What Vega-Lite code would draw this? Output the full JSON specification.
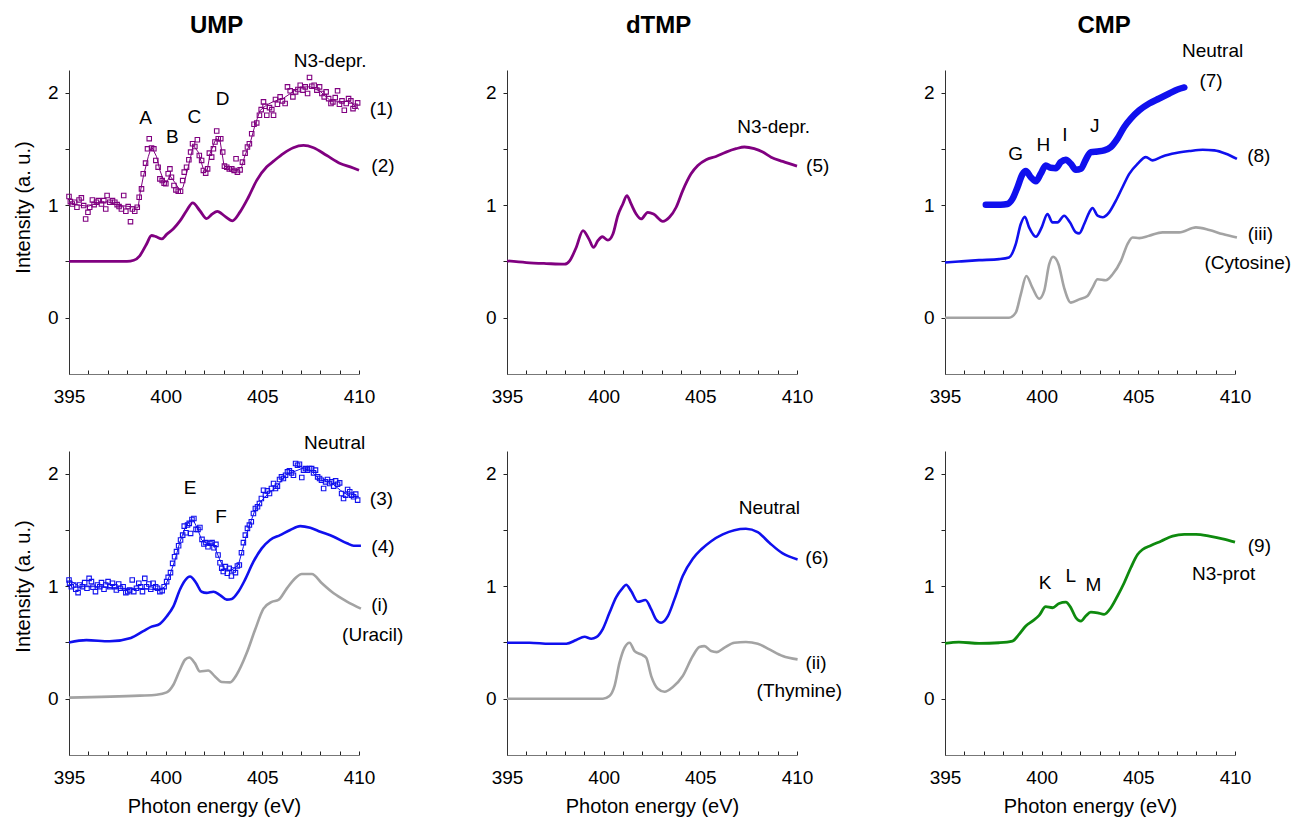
{
"$schema": "https://vega.github.io/schema/vega-lite/v6.json",
"padding": {"left": 13, "top": 14, "right": 2, "bottom": 2},
"config": {
  "font": "Liberation Sans",
  "view": {"stroke": null},
  "axis": {"grid": false, "labelFont": "Liberation Sans", "labelFontSize": 19, "labelColor": "#000", "titleFont": "Liberation Sans", "titleFontSize": 20, "titleFontWeight": "normal", "titleColor": "#000", "domainColor": "#333", "tickColor": "#222", "labelOverlap": false, "labelFlush": false},
  "axisX": {"tickSize": -4, "labelPadding": 17, "domainColor": "#777"},
  "axisY": {"tickSize": 4, "labelPadding": 7}
},
"bounds": "flush",
"columns": 3,
"spacing": {"row": 77, "column": 148},
"datasets": {
  "ump_top": [{"x":395,"y":0.5},{"x":396,"y":0.5},{"x":397,"y":0.5},{"x":398,"y":0.5},{"x":398.35,"y":0.51},{"x":398.66,"y":0.55},{"x":399.0,"y":0.65},{"x":399.27,"y":0.73},{"x":399.5,"y":0.72},{"x":399.8,"y":0.7},{"x":400.05,"y":0.74},{"x":400.4,"y":0.79},{"x":400.74,"y":0.86},{"x":401.08,"y":0.95},{"x":401.4,"y":1.02},{"x":401.77,"y":0.95},{"x":402.12,"y":0.88},{"x":402.4,"y":0.92},{"x":402.67,"y":0.945},{"x":403.07,"y":0.9},{"x":403.45,"y":0.86},{"x":403.85,"y":0.94},{"x":404.28,"y":1.07},{"x":404.71,"y":1.22},{"x":405.23,"y":1.34},{"x":405.58,"y":1.39},{"x":406.1,"y":1.46},{"x":406.6,"y":1.51},{"x":407.13,"y":1.53},{"x":407.65,"y":1.51},{"x":408.34,"y":1.44},{"x":409.03,"y":1.37},{"x":409.55,"y":1.34},{"x":410.0,"y":1.31}],
  "ump_top_fit": [{"x":395,"y":1.025},{"x":395.5,"y":1.0},{"x":396,"y":0.99},{"x":396.5,"y":1.02},{"x":397,"y":1.03},{"x":397.5,"y":1.0},{"x":398,"y":0.99},{"x":398.58,"y":0.98},{"x":398.67,"y":1.1},{"x":398.84,"y":1.25},{"x":399.1,"y":1.43},{"x":399.27,"y":1.52},{"x":399.53,"y":1.43},{"x":399.7,"y":1.31},{"x":399.87,"y":1.23},{"x":400.05,"y":1.2},{"x":400.22,"y":1.26},{"x":400.48,"y":1.2},{"x":400.74,"y":1.13},{"x":400.9,"y":1.16},{"x":401.17,"y":1.34},{"x":401.43,"y":1.53},{"x":401.69,"y":1.47},{"x":401.95,"y":1.32},{"x":402.15,"y":1.31},{"x":402.3,"y":1.46},{"x":402.6,"y":1.59},{"x":402.81,"y":1.575},{"x":403.02,"y":1.35},{"x":403.33,"y":1.32},{"x":403.67,"y":1.31},{"x":403.93,"y":1.34},{"x":404.1,"y":1.44},{"x":404.37,"y":1.55},{"x":404.62,"y":1.71},{"x":404.88,"y":1.84},{"x":405.23,"y":1.89},{"x":405.58,"y":1.92},{"x":406.1,"y":1.95},{"x":406.44,"y":1.99},{"x":406.96,"y":2.05},{"x":407.48,"y":2.05},{"x":408.0,"y":2.01},{"x":408.5,"y":1.93},{"x":409.03,"y":1.92},{"x":409.55,"y":1.92},{"x":410.0,"y":1.85}],
  "ump_top_pts": [{"x":395.0,"y":1.076},{"x":395.07,"y":1.031},{"x":395.17,"y":1.01},{"x":395.29,"y":1.025},{"x":395.41,"y":0.981},{"x":395.52,"y":1.046},{"x":395.64,"y":1.064},{"x":395.76,"y":0.996},{"x":395.86,"y":0.877},{"x":395.98,"y":0.936},{"x":396.07,"y":0.981},{"x":396.21,"y":1.046},{"x":396.3,"y":1.004},{"x":396.42,"y":1.025},{"x":396.52,"y":1.04},{"x":396.68,"y":1.01},{"x":396.8,"y":1.04},{"x":396.9,"y":0.966},{"x":396.97,"y":1.085},{"x":397.11,"y":1.025},{"x":397.25,"y":1.04},{"x":397.37,"y":1.025},{"x":397.49,"y":1.004},{"x":397.59,"y":0.987},{"x":397.71,"y":0.966},{"x":397.83,"y":1.085},{"x":397.94,"y":0.945},{"x":398.06,"y":0.987},{"x":398.18,"y":0.853},{"x":398.28,"y":0.966},{"x":398.4,"y":0.945},{"x":398.53,"y":0.981},{"x":398.63,"y":1.07},{"x":398.75,"y":1.144},{"x":398.84,"y":1.278},{"x":398.96,"y":1.373},{"x":399.06,"y":1.5},{"x":399.15,"y":1.59},{"x":399.27,"y":1.507},{"x":399.39,"y":1.5},{"x":399.49,"y":1.397},{"x":399.61,"y":1.337},{"x":399.7,"y":1.233},{"x":399.82,"y":1.218},{"x":399.92,"y":1.195},{"x":400.01,"y":1.189},{"x":400.13,"y":1.278},{"x":400.22,"y":1.322},{"x":400.3,"y":1.248},{"x":400.43,"y":1.174},{"x":400.53,"y":1.135},{"x":400.65,"y":1.123},{"x":400.77,"y":1.123},{"x":400.88,"y":1.218},{"x":400.96,"y":1.293},{"x":401.08,"y":1.337},{"x":401.2,"y":1.403},{"x":401.29,"y":1.471},{"x":401.39,"y":1.545},{"x":401.51,"y":1.521},{"x":401.64,"y":1.581},{"x":401.74,"y":1.441},{"x":401.86,"y":1.397},{"x":401.95,"y":1.308},{"x":402.07,"y":1.284},{"x":402.17,"y":1.322},{"x":402.26,"y":1.462},{"x":402.38,"y":1.426},{"x":402.47,"y":1.5},{"x":402.55,"y":1.56},{"x":402.64,"y":1.658},{"x":402.72,"y":1.59},{"x":402.85,"y":1.59},{"x":402.95,"y":1.471},{"x":403.04,"y":1.346},{"x":403.16,"y":1.337},{"x":403.29,"y":1.322},{"x":403.42,"y":1.322},{"x":403.54,"y":1.308},{"x":403.64,"y":1.412},{"x":403.71,"y":1.293},{"x":403.85,"y":1.313},{"x":403.97,"y":1.382},{"x":404.11,"y":1.462},{"x":404.23,"y":1.516},{"x":404.33,"y":1.545},{"x":404.45,"y":1.634},{"x":404.57,"y":1.718},{"x":404.71,"y":1.73},{"x":404.85,"y":1.798},{"x":404.94,"y":1.848},{"x":405.06,"y":1.917},{"x":405.14,"y":1.878},{"x":405.23,"y":1.798},{"x":405.37,"y":1.866},{"x":405.49,"y":1.848},{"x":405.58,"y":1.798},{"x":405.68,"y":1.938},{"x":405.78,"y":1.896},{"x":405.92,"y":1.961},{"x":406.04,"y":1.926},{"x":406.18,"y":1.902},{"x":406.3,"y":2.05},{"x":406.44,"y":2.015},{"x":406.58,"y":1.961},{"x":406.72,"y":2.006},{"x":406.84,"y":2.027},{"x":406.96,"y":2.065},{"x":407.1,"y":2.021},{"x":407.22,"y":2.05},{"x":407.34,"y":1.991},{"x":407.44,"y":2.134},{"x":407.56,"y":2.056},{"x":407.68,"y":2.065},{"x":407.82,"y":2.021},{"x":407.96,"y":2.05},{"x":408.08,"y":1.991},{"x":408.2,"y":1.961},{"x":408.3,"y":2.006},{"x":408.43,"y":1.946},{"x":408.55,"y":1.902},{"x":408.65,"y":1.917},{"x":408.77,"y":1.955},{"x":408.89,"y":2.015},{"x":408.99,"y":1.896},{"x":409.12,"y":1.926},{"x":409.24,"y":1.842},{"x":409.34,"y":1.902},{"x":409.46,"y":1.946},{"x":409.58,"y":1.926},{"x":409.69,"y":1.857},{"x":409.79,"y":1.878},{"x":409.93,"y":1.908}],
  "ump_bot": [{"series":"4","x":395,"y":0.5},{"series":"4","x":395.9,"y":0.52},{"series":"4","x":397.1,"y":0.51},{"series":"4","x":398.2,"y":0.54},{"series":"4","x":398.84,"y":0.6},{"series":"4","x":399.27,"y":0.64},{"series":"4","x":399.7,"y":0.665},{"series":"4","x":400.05,"y":0.73},{"series":"4","x":400.4,"y":0.82},{"series":"4","x":400.74,"y":0.97},{"series":"4","x":401.0,"y":1.05},{"series":"4","x":401.26,"y":1.085},{"series":"4","x":401.57,"y":1.03},{"series":"4","x":401.86,"y":0.95},{"series":"4","x":402.12,"y":0.94},{"series":"4","x":402.47,"y":0.95},{"series":"4","x":402.81,"y":0.92},{"series":"4","x":403.16,"y":0.88},{"series":"4","x":403.42,"y":0.886},{"series":"4","x":403.76,"y":0.95},{"series":"4","x":404.1,"y":1.055},{"series":"4","x":404.54,"y":1.217},{"series":"4","x":404.97,"y":1.335},{"series":"4","x":405.4,"y":1.41},{"series":"4","x":405.92,"y":1.453},{"series":"4","x":406.44,"y":1.498},{"series":"4","x":406.96,"y":1.533},{"series":"4","x":407.48,"y":1.518},{"series":"4","x":408.0,"y":1.483},{"series":"4","x":408.69,"y":1.439},{"series":"4","x":409.38,"y":1.38},{"series":"4","x":409.72,"y":1.359},{"series":"4","x":410.1,"y":1.359},
    {"series":"i","x":395,"y":0.01},{"series":"i","x":398.66,"y":0.027},{"series":"i","x":399.53,"y":0.035},{"series":"i","x":400.05,"y":0.056},{"series":"i","x":400.4,"y":0.124},{"series":"i","x":400.74,"y":0.257},{"series":"i","x":401.0,"y":0.346},{"series":"i","x":401.22,"y":0.366},{"series":"i","x":401.51,"y":0.316},{"series":"i","x":401.77,"y":0.242},{"series":"i","x":402.2,"y":0.25},{"series":"i","x":402.55,"y":0.198},{"series":"i","x":402.9,"y":0.148},{"series":"i","x":403.33,"y":0.145},{"series":"i","x":403.67,"y":0.213},{"series":"i","x":404.19,"y":0.405},{"series":"i","x":404.62,"y":0.61},{"series":"i","x":405.06,"y":0.8},{"series":"i","x":405.49,"y":0.86},{"series":"i","x":405.83,"y":0.877},{"series":"i","x":406.27,"y":0.98},{"series":"i","x":406.7,"y":1.07},{"series":"i","x":407.04,"y":1.108},{"series":"i","x":407.56,"y":1.108},{"series":"i","x":408.08,"y":1.025},{"series":"i","x":408.69,"y":0.936},{"series":"i","x":409.38,"y":0.863},{"series":"i","x":410.1,"y":0.8}],
  "ump_bot_fit": [{"x":395,"y":1.055},{"x":395.55,"y":0.995},{"x":396.6,"y":0.995},{"x":397.63,"y":0.98},{"x":398.66,"y":0.98},{"x":399.7,"y":0.966},{"x":399.96,"y":0.995},{"x":400.22,"y":1.1},{"x":400.48,"y":1.23},{"x":400.74,"y":1.394},{"x":401.0,"y":1.513},{"x":401.26,"y":1.586},{"x":401.43,"y":1.586},{"x":401.64,"y":1.513},{"x":401.86,"y":1.41},{"x":402.12,"y":1.38},{"x":402.47,"y":1.374},{"x":402.81,"y":1.23},{"x":403.07,"y":1.143},{"x":403.42,"y":1.143},{"x":403.76,"y":1.188},{"x":404.02,"y":1.35},{"x":404.28,"y":1.513},{"x":404.62,"y":1.675},{"x":404.97,"y":1.764},{"x":405.32,"y":1.823},{"x":405.75,"y":1.882},{"x":406.18,"y":1.985},{"x":406.61,"y":2.015},{"x":407.04,"y":2.044},{"x":407.48,"y":2.03},{"x":408.0,"y":1.941},{"x":408.51,"y":1.926},{"x":409.03,"y":1.852},{"x":409.55,"y":1.793},{"x":410.0,"y":1.793}],
  "ump_bot_pts": [{"x":395.0,"y":1.055},{"x":395.03,"y":1.025},{"x":395.12,"y":0.995},{"x":395.24,"y":1.01},{"x":395.35,"y":0.972},{"x":395.47,"y":0.942},{"x":395.55,"y":1.01},{"x":395.69,"y":0.995},{"x":395.81,"y":1.031},{"x":395.93,"y":0.981},{"x":396.04,"y":1.069},{"x":396.16,"y":1.04},{"x":396.24,"y":0.99},{"x":396.37,"y":0.951},{"x":396.47,"y":1.01},{"x":396.59,"y":0.995},{"x":396.68,"y":1.031},{"x":396.81,"y":0.972},{"x":396.9,"y":1.01},{"x":397.02,"y":1.04},{"x":397.11,"y":0.995},{"x":397.25,"y":1.025},{"x":397.37,"y":0.995},{"x":397.45,"y":0.966},{"x":397.57,"y":1.019},{"x":397.66,"y":0.981},{"x":397.8,"y":0.995},{"x":397.94,"y":0.942},{"x":398.04,"y":0.951},{"x":398.14,"y":0.966},{"x":398.27,"y":1.055},{"x":398.35,"y":0.951},{"x":398.49,"y":0.981},{"x":398.61,"y":1.025},{"x":398.7,"y":0.995},{"x":398.8,"y":0.951},{"x":398.92,"y":1.069},{"x":399.01,"y":0.995},{"x":399.13,"y":1.019},{"x":399.23,"y":0.972},{"x":399.35,"y":1.025},{"x":399.48,"y":0.995},{"x":399.58,"y":0.981},{"x":399.7,"y":0.951},{"x":399.82,"y":0.96},{"x":399.92,"y":0.995},{"x":400.05,"y":1.04},{"x":400.13,"y":1.078},{"x":400.25,"y":1.12},{"x":400.36,"y":1.202},{"x":400.46,"y":1.261},{"x":400.56,"y":1.306},{"x":400.67,"y":1.359},{"x":400.77,"y":1.409},{"x":400.88,"y":1.453},{"x":400.96,"y":1.533},{"x":401.05,"y":1.474},{"x":401.13,"y":1.542},{"x":401.22,"y":1.557},{"x":401.29,"y":1.468},{"x":401.36,"y":1.592},{"x":401.46,"y":1.601},{"x":401.57,"y":1.504},{"x":401.67,"y":1.504},{"x":401.77,"y":1.521},{"x":401.88,"y":1.415},{"x":401.98,"y":1.374},{"x":402.08,"y":1.386},{"x":402.19,"y":1.35},{"x":402.29,"y":1.38},{"x":402.4,"y":1.386},{"x":402.5,"y":1.341},{"x":402.6,"y":1.371},{"x":402.71,"y":1.276},{"x":402.81,"y":1.208},{"x":402.9,"y":1.158},{"x":402.98,"y":1.129},{"x":403.09,"y":1.173},{"x":403.19,"y":1.114},{"x":403.29,"y":1.158},{"x":403.4,"y":1.09},{"x":403.5,"y":1.143},{"x":403.61,"y":1.12},{"x":403.71,"y":1.179},{"x":403.81,"y":1.188},{"x":403.92,"y":1.297},{"x":404.02,"y":1.386},{"x":404.12,"y":1.453},{"x":404.23,"y":1.513},{"x":404.33,"y":1.542},{"x":404.43,"y":1.572},{"x":404.54,"y":1.645},{"x":404.64,"y":1.69},{"x":404.75,"y":1.705},{"x":404.85,"y":1.734},{"x":404.95,"y":1.778},{"x":405.06,"y":1.852},{"x":405.16,"y":1.808},{"x":405.26,"y":1.846},{"x":405.37,"y":1.823},{"x":405.47,"y":1.867},{"x":405.58,"y":1.911},{"x":405.68,"y":1.867},{"x":405.78,"y":1.888},{"x":405.89,"y":1.947},{"x":405.99,"y":1.97},{"x":406.09,"y":1.956},{"x":406.2,"y":1.985},{"x":406.3,"y":2.015},{"x":406.4,"y":2.024},{"x":406.51,"y":2.006},{"x":406.61,"y":1.985},{"x":406.72,"y":2.089},{"x":406.82,"y":2.074},{"x":406.92,"y":2.083},{"x":407.04,"y":1.965},{"x":407.13,"y":2.03},{"x":407.23,"y":2.044},{"x":407.34,"y":2.03},{"x":407.44,"y":2.044},{"x":407.55,"y":2.044},{"x":407.65,"y":2.006},{"x":407.75,"y":2.03},{"x":407.86,"y":1.97},{"x":407.96,"y":1.956},{"x":408.06,"y":1.941},{"x":408.17,"y":1.867},{"x":408.27,"y":1.926},{"x":408.37,"y":1.947},{"x":408.48,"y":1.911},{"x":408.58,"y":1.926},{"x":408.69,"y":1.888},{"x":408.79,"y":1.935},{"x":408.89,"y":1.905},{"x":409.0,"y":1.917},{"x":409.1,"y":1.823},{"x":409.2,"y":1.778},{"x":409.31,"y":1.808},{"x":409.41,"y":1.858},{"x":409.52,"y":1.838},{"x":409.62,"y":1.808},{"x":409.72,"y":1.793},{"x":409.83,"y":1.817},{"x":409.93,"y":1.764}],
  "dtmp_top": [{"x":395,"y":0.505},{"x":396,"y":0.49},{"x":397.03,"y":0.481},{"x":397.98,"y":0.475},{"x":398.24,"y":0.505},{"x":398.58,"y":0.624},{"x":398.93,"y":0.773},{"x":399.24,"y":0.698},{"x":399.48,"y":0.624},{"x":399.7,"y":0.684},{"x":399.93,"y":0.719},{"x":400.22,"y":0.689},{"x":400.48,"y":0.743},{"x":400.73,"y":0.906},{"x":400.99,"y":1.01},{"x":401.2,"y":1.085},{"x":401.42,"y":1.01},{"x":401.68,"y":0.921},{"x":401.94,"y":0.877},{"x":402.28,"y":0.936},{"x":402.58,"y":0.921},{"x":403.06,"y":0.856},{"x":403.4,"y":0.892},{"x":403.75,"y":0.981},{"x":404.09,"y":1.129},{"x":404.52,"y":1.278},{"x":404.87,"y":1.352},{"x":405.3,"y":1.403},{"x":405.81,"y":1.432},{"x":406.33,"y":1.471},{"x":406.85,"y":1.501},{"x":407.28,"y":1.516},{"x":407.79,"y":1.501},{"x":408.23,"y":1.471},{"x":408.66,"y":1.426},{"x":409.26,"y":1.388},{"x":410.0,"y":1.346}],
  "dtmp_bot": [{"series":"6","x":395,"y":0.497},{"series":"6","x":396.17,"y":0.497},{"series":"6","x":397.2,"y":0.488},{"series":"6","x":398.07,"y":0.488},{"series":"6","x":398.58,"y":0.521},{"series":"6","x":399.01,"y":0.55},{"series":"6","x":399.36,"y":0.533},{"series":"6","x":399.62,"y":0.547},{"series":"6","x":399.96,"y":0.621},{"series":"6","x":400.3,"y":0.763},{"series":"6","x":400.65,"y":0.902},{"series":"6","x":400.99,"y":0.985},{"series":"6","x":401.16,"y":1.012},{"series":"6","x":401.42,"y":0.956},{"series":"6","x":401.77,"y":0.861},{"series":"6","x":402.16,"y":0.876},{"series":"6","x":402.46,"y":0.793},{"series":"6","x":402.71,"y":0.704},{"series":"6","x":402.97,"y":0.675},{"series":"6","x":403.32,"y":0.734},{"series":"6","x":403.66,"y":0.882},{"series":"6","x":404.09,"y":1.089},{"series":"6","x":404.61,"y":1.243},{"series":"6","x":405.04,"y":1.325},{"series":"6","x":405.56,"y":1.399},{"series":"6","x":406.16,"y":1.459},{"series":"6","x":406.76,"y":1.497},{"series":"6","x":407.36,"y":1.509},{"series":"6","x":407.97,"y":1.479},{"series":"6","x":408.57,"y":1.385},{"series":"6","x":409.26,"y":1.29},{"series":"6","x":410.03,"y":1.237},
    {"series":"ii","x":395,"y":0.0},{"series":"ii","x":397.89,"y":0.0},{"series":"ii","x":399.96,"y":0.0},{"series":"ii","x":400.3,"y":0.024},{"series":"ii","x":400.56,"y":0.112},{"series":"ii","x":400.82,"y":0.32},{"series":"ii","x":401.08,"y":0.453},{"series":"ii","x":401.34,"y":0.497},{"series":"ii","x":401.6,"y":0.423},{"series":"ii","x":401.94,"y":0.393},{"series":"ii","x":402.2,"y":0.364},{"series":"ii","x":402.46,"y":0.201},{"series":"ii","x":402.8,"y":0.089},{"series":"ii","x":403.15,"y":0.062},{"series":"ii","x":403.58,"y":0.104},{"series":"ii","x":404.09,"y":0.201},{"series":"ii","x":404.61,"y":0.379},{"series":"ii","x":404.95,"y":0.459},{"series":"ii","x":405.21,"y":0.467},{"series":"ii","x":405.56,"y":0.423},{"series":"ii","x":405.85,"y":0.414},{"series":"ii","x":406.25,"y":0.453},{"series":"ii","x":406.76,"y":0.497},{"series":"ii","x":407.36,"y":0.503},{"series":"ii","x":407.97,"y":0.488},{"series":"ii","x":408.57,"y":0.438},{"series":"ii","x":409.26,"y":0.379},{"series":"ii","x":410.03,"y":0.349}],
  "cmp_top_thick": [{"x":397.11,"y":1.004},{"x":397.45,"y":1.004},{"x":397.88,"y":1.004},{"x":398.23,"y":1.01},{"x":398.49,"y":1.055},{"x":398.75,"y":1.159},{"x":399.0,"y":1.272},{"x":399.18,"y":1.302},{"x":399.44,"y":1.248},{"x":399.7,"y":1.212},{"x":399.95,"y":1.278},{"x":400.21,"y":1.352},{"x":400.47,"y":1.331},{"x":400.73,"y":1.328},{"x":400.99,"y":1.382},{"x":401.25,"y":1.403},{"x":401.51,"y":1.367},{"x":401.77,"y":1.313},{"x":402.03,"y":1.322},{"x":402.28,"y":1.403},{"x":402.54,"y":1.471},{"x":402.89,"y":1.477},{"x":403.23,"y":1.486},{"x":403.58,"y":1.516},{"x":403.92,"y":1.59},{"x":404.27,"y":1.694},{"x":404.61,"y":1.768},{"x":405.05,"y":1.842},{"x":405.56,"y":1.902},{"x":406.08,"y":1.947},{"x":406.6,"y":1.991},{"x":407.03,"y":2.027},{"x":407.38,"y":2.045}],
  "cmp_top": [{"series":"8","x":395,"y":0.49},{"series":"8","x":395.72,"y":0.499},{"series":"8","x":396.76,"y":0.511},{"series":"8","x":397.8,"y":0.52},{"series":"8","x":398.31,"y":0.535},{"series":"8","x":398.66,"y":0.654},{"series":"8","x":398.92,"y":0.832},{"series":"8","x":399.13,"y":0.897},{"series":"8","x":399.35,"y":0.802},{"series":"8","x":399.7,"y":0.719},{"series":"8","x":400.0,"y":0.802},{"series":"8","x":400.3,"y":0.921},{"series":"8","x":400.56,"y":0.847},{"series":"8","x":400.82,"y":0.847},{"series":"8","x":401.16,"y":0.906},{"series":"8","x":401.46,"y":0.847},{"series":"8","x":401.77,"y":0.758},{"series":"8","x":401.94,"y":0.749},{"series":"8","x":402.2,"y":0.832},{"series":"8","x":402.46,"y":0.936},{"series":"8","x":402.63,"y":0.975},{"series":"8","x":402.89,"y":0.906},{"series":"8","x":403.15,"y":0.892},{"series":"8","x":403.49,"y":0.936},{"series":"8","x":403.84,"y":1.04},{"series":"8","x":404.18,"y":1.159},{"series":"8","x":404.53,"y":1.278},{"series":"8","x":404.96,"y":1.367},{"series":"8","x":405.39,"y":1.426},{"series":"8","x":405.74,"y":1.397},{"series":"8","x":406.25,"y":1.432},{"series":"8","x":406.95,"y":1.462},{"series":"8","x":407.64,"y":1.48},{"series":"8","x":408.33,"y":1.492},{"series":"8","x":408.93,"y":1.486},{"series":"8","x":409.53,"y":1.456},{"series":"8","x":410.1,"y":1.41},
    {"series":"iii","x":395,"y":0.0},{"series":"iii","x":398.31,"y":0.0},{"series":"iii","x":398.66,"y":0.045},{"series":"iii","x":398.92,"y":0.208},{"series":"iii","x":399.21,"y":0.371},{"series":"iii","x":399.52,"y":0.267},{"series":"iii","x":399.87,"y":0.169},{"series":"iii","x":400.13,"y":0.238},{"series":"iii","x":400.39,"y":0.475},{"series":"iii","x":400.59,"y":0.541},{"series":"iii","x":400.87,"y":0.475},{"series":"iii","x":401.16,"y":0.267},{"series":"iii","x":401.51,"y":0.134},{"series":"iii","x":401.94,"y":0.163},{"series":"iii","x":402.37,"y":0.193},{"series":"iii","x":402.63,"y":0.267},{"series":"iii","x":402.89,"y":0.342},{"series":"iii","x":403.32,"y":0.333},{"series":"iii","x":403.67,"y":0.386},{"series":"iii","x":404.1,"y":0.505},{"series":"iii","x":404.44,"y":0.654},{"series":"iii","x":404.7,"y":0.713},{"series":"iii","x":405.05,"y":0.707},{"series":"iii","x":405.56,"y":0.728},{"series":"iii","x":406.25,"y":0.758},{"series":"iii","x":407.12,"y":0.758},{"series":"iii","x":407.98,"y":0.802},{"series":"iii","x":408.67,"y":0.779},{"series":"iii","x":409.36,"y":0.743},{"series":"iii","x":410.1,"y":0.713}],
  "cmp_bot": [{"x":395,"y":0.491},{"x":395.72,"y":0.503},{"x":396.76,"y":0.491},{"x":397.8,"y":0.497},{"x":398.49,"y":0.512},{"x":398.83,"y":0.571},{"x":399.18,"y":0.645},{"x":399.52,"y":0.689},{"x":399.87,"y":0.74},{"x":400.21,"y":0.817},{"x":400.56,"y":0.808},{"x":400.9,"y":0.846},{"x":401.25,"y":0.858},{"x":401.51,"y":0.808},{"x":401.77,"y":0.719},{"x":402.03,"y":0.689},{"x":402.28,"y":0.734},{"x":402.54,"y":0.769},{"x":402.89,"y":0.763},{"x":403.23,"y":0.749},{"x":403.58,"y":0.808},{"x":403.92,"y":0.911},{"x":404.27,"y":1.03},{"x":404.61,"y":1.163},{"x":404.96,"y":1.281},{"x":405.22,"y":1.325},{"x":405.65,"y":1.361},{"x":406.17,"y":1.399},{"x":406.77,"y":1.444},{"x":407.38,"y":1.459},{"x":407.98,"y":1.459},{"x":408.67,"y":1.444},{"x":409.36,"y":1.42},{"x":410.0,"y":1.391}],
  "titles": [{"panel":"ump_top","text":"UMP","x":402.64,"y":2.528},{"panel":"dtmp_top","text":"dTMP","x":402.84,"y":2.528},{"panel":"cmp_top","text":"CMP","x":403.23,"y":2.528}],
  "labels": [
    {"panel":"ump_top","text":"N3-depr.","x":408.51,"y":2.28},{"panel":"ump_top","text":"(1)","x":411.16,"y":1.85},{"panel":"ump_top","text":"(2)","x":411.24,"y":1.346},{"panel":"ump_top","text":"A","x":398.96,"y":1.777},{"panel":"ump_top","text":"B","x":400.34,"y":1.605},{"panel":"ump_top","text":"C","x":401.48,"y":1.783},{"panel":"ump_top","text":"D","x":402.95,"y":1.946},
    {"panel":"ump_bot","text":"Neutral","x":408.74,"y":2.27},{"panel":"ump_bot","text":"(3)","x":411.16,"y":1.773},{"panel":"ump_bot","text":"(4)","x":411.24,"y":1.344},{"panel":"ump_bot","text":"(i)","x":411.07,"y":0.833},{"panel":"ump_bot","text":"(Uracil)","x":410.71,"y":0.567},{"panel":"ump_bot","text":"E","x":401.26,"y":1.867},{"panel":"ump_bot","text":"F","x":402.86,"y":1.616},
    {"panel":"dtmp_top","text":"N3-depr.","x":408.79,"y":1.694},{"panel":"dtmp_top","text":"(5)","x":411.07,"y":1.346},
    {"panel":"dtmp_bot","text":"Neutral","x":408.57,"y":1.695},{"panel":"dtmp_bot","text":"(6)","x":411.03,"y":1.251},{"panel":"dtmp_bot","text":"(ii)","x":410.98,"y":0.314},{"panel":"dtmp_bot","text":"(Thymine)","x":410.12,"y":0.068},
    {"panel":"cmp_top","text":"Neutral","x":408.84,"y":2.371},{"panel":"cmp_top","text":"(7)","x":408.76,"y":2.1},{"panel":"cmp_top","text":"(8)","x":411.23,"y":1.432},{"panel":"cmp_top","text":"(iii)","x":411.31,"y":0.743},{"panel":"cmp_top","text":"(Cytosine)","x":410.66,"y":0.49},{"panel":"cmp_top","text":"G","x":398.66,"y":1.456},{"panel":"cmp_top","text":"H","x":400.09,"y":1.536},{"panel":"cmp_top","text":"I","x":401.2,"y":1.62},{"panel":"cmp_top","text":"J","x":402.75,"y":1.7},
    {"panel":"cmp_bot","text":"(9)","x":411.26,"y":1.355},{"panel":"cmp_bot","text":"N3-prot","x":409.41,"y":1.104},{"panel":"cmp_bot","text":"K","x":400.18,"y":1.024},{"panel":"cmp_bot","text":"L","x":401.51,"y":1.089},{"panel":"cmp_bot","text":"M","x":402.67,"y":1.006}
  ]
},
"concat": [
  {
    "width": 290, "height": 304,
    "encoding": {
      "x": {"field": "x", "type": "quantitative", "scale": {"domain": [395, 410], "nice": false, "zero": false}, "axis": {"values": [395,396,397,398,399,400,401,402,403,404,405,406,407,408,409,410], "labelExpr": "datum.value % 5 === 0 ? datum.label : ''", "title": null}},
      "y": {"field": "y", "type": "quantitative", "scale": {"domain": [-0.5, 2.2], "nice": false, "zero": false}, "axis": {"values": [0, 0.5, 1, 1.5, 2], "labelExpr": "datum.value % 1 === 0 ? '' + datum.value : ''", "title": "Intensity (a. u.)", "titleX": -46, "titleY": 137, "titleBaseline": "middle", "titleAlign": "center", "titleAngle": -90}}
    },
    "layer": [
      {"data": {"name": "ump_top_fit"}, "mark": {"type": "line", "color": "#800080", "strokeWidth": 1}, "encoding": {}},
      {"data": {"name": "ump_top_pts"}, "mark": {"type": "point", "shape": "square", "filled": false, "color": "#800080", "size": 20, "strokeWidth": 1.1, "opacity": 1}},
      {"data": {"name": "ump_top"}, "mark": {"type": "line", "color": "#800080", "strokeWidth": 2.8, "interpolate": "monotone"}, "encoding": {}},
      {"data": {"name": "titles"}, "transform": [{"filter": "datum.panel === 'ump_top'"}], "mark": {"type": "text", "fontSize": 24, "fontWeight": "bold", "font": "Liberation Sans", "align": "center", "baseline": "alphabetic", "color": "#000"}, "encoding": {"text": {"field": "text"}}},
      {"data": {"name": "labels"}, "transform": [{"filter": "datum.panel === 'ump_top'"}], "mark": {"type": "text", "fontSize": 19, "font": "Liberation Sans", "align": "center", "baseline": "middle", "color": "#000"}, "encoding": {"text": {"field": "text"}}}
    ]
  },
  {
    "width": 290, "height": 304,
    "encoding": {
      "x": {"field": "x", "type": "quantitative", "scale": {"domain": [395, 410], "nice": false, "zero": false}, "axis": {"values": [395,396,397,398,399,400,401,402,403,404,405,406,407,408,409,410], "labelExpr": "datum.value % 5 === 0 ? datum.label : ''", "title": null}},
      "y": {"field": "y", "type": "quantitative", "scale": {"domain": [-0.5, 2.2], "nice": false, "zero": false}, "axis": {"values": [0, 0.5, 1, 1.5, 2], "labelExpr": "datum.value % 1 === 0 ? '' + datum.value : ''", "title": null}}
    },
    "layer": [
      {"data": {"name": "dtmp_top"}, "mark": {"type": "line", "color": "#800080", "strokeWidth": 2.8, "interpolate": "monotone"}, "encoding": {}},
      {"data": {"name": "titles"}, "transform": [{"filter": "datum.panel === 'dtmp_top'"}], "mark": {"type": "text", "fontSize": 24, "fontWeight": "bold", "font": "Liberation Sans", "align": "center", "baseline": "alphabetic", "color": "#000"}, "encoding": {"text": {"field": "text"}}},
      {"data": {"name": "labels"}, "transform": [{"filter": "datum.panel === 'dtmp_top'"}], "mark": {"type": "text", "fontSize": 19, "font": "Liberation Sans", "align": "center", "baseline": "middle", "color": "#000"}, "encoding": {"text": {"field": "text"}}}
    ]
  },
  {
    "width": 290, "height": 304,
    "encoding": {
      "x": {"field": "x", "type": "quantitative", "scale": {"domain": [395, 410], "nice": false, "zero": false}, "axis": {"values": [395,396,397,398,399,400,401,402,403,404,405,406,407,408,409,410], "labelExpr": "datum.value % 5 === 0 ? datum.label : ''", "title": null}},
      "y": {"field": "y", "type": "quantitative", "scale": {"domain": [-0.5, 2.2], "nice": false, "zero": false}, "axis": {"values": [0, 0.5, 1, 1.5, 2], "labelExpr": "datum.value % 1 === 0 ? '' + datum.value : ''", "title": null}}
    },
    "layer": [
      {"data": {"name": "cmp_top"}, "mark": {"type": "line", "strokeWidth": 2.6, "interpolate": "monotone"}, "encoding": {"color": {"field": "series", "type": "nominal", "legend": null, "scale": {"domain": ["4","i","6","ii","8","iii"], "range": ["#1010ee","#a3a3a3","#1010ee","#a3a3a3","#1010ee","#a3a3a3"]}}}},
      {"data": {"name": "cmp_top_thick"}, "mark": {"type": "line", "color": "#1010ee", "strokeWidth": 6.5, "strokeCap": "round", "strokeJoin": "round", "interpolate": "monotone"}, "encoding": {}},
      {"data": {"name": "titles"}, "transform": [{"filter": "datum.panel === 'cmp_top'"}], "mark": {"type": "text", "fontSize": 24, "fontWeight": "bold", "font": "Liberation Sans", "align": "center", "baseline": "alphabetic", "color": "#000"}, "encoding": {"text": {"field": "text"}}},
      {"data": {"name": "labels"}, "transform": [{"filter": "datum.panel === 'cmp_top'"}], "mark": {"type": "text", "fontSize": 19, "font": "Liberation Sans", "align": "center", "baseline": "middle", "color": "#000"}, "encoding": {"text": {"field": "text"}}}
    ]
  },
  {
    "width": 290, "height": 304,
    "encoding": {
      "x": {"field": "x", "type": "quantitative", "scale": {"domain": [395, 410], "nice": false, "zero": false}, "axis": {"values": [395,396,397,398,399,400,401,402,403,404,405,406,407,408,409,410], "labelExpr": "datum.value % 5 === 0 ? datum.label : ''", "title": "Photon energy (eV)", "titleY": 51, "titleBaseline": "middle"}},
      "y": {"field": "y", "type": "quantitative", "scale": {"domain": [-0.5, 2.2], "nice": false, "zero": false}, "axis": {"values": [0, 0.5, 1, 1.5, 2], "labelExpr": "datum.value % 1 === 0 ? '' + datum.value : ''", "title": "Intensity (a. u.)", "titleX": -46, "titleY": 135, "titleBaseline": "middle", "titleAlign": "center", "titleAngle": -90}}
    },
    "layer": [
      {"data": {"name": "ump_bot"}, "mark": {"type": "line", "strokeWidth": 2.6, "interpolate": "monotone"}, "encoding": {"color": {"field": "series", "type": "nominal", "legend": null, "scale": {"domain": ["4","i","6","ii","8","iii"], "range": ["#1010ee","#a3a3a3","#1010ee","#a3a3a3","#1010ee","#a3a3a3"]}}}},
      {"data": {"name": "ump_bot_fit"}, "mark": {"type": "line", "color": "#1010ee", "strokeWidth": 1}, "encoding": {}},
      {"data": {"name": "ump_bot_pts"}, "mark": {"type": "point", "shape": "square", "filled": false, "color": "#1010ee", "size": 20, "strokeWidth": 1.1, "opacity": 1}},
      {"data": {"name": "labels"}, "transform": [{"filter": "datum.panel === 'ump_bot'"}], "mark": {"type": "text", "fontSize": 19, "font": "Liberation Sans", "align": "center", "baseline": "middle", "color": "#000"}, "encoding": {"text": {"field": "text"}}}
    ]
  },
  {
    "width": 290, "height": 304,
    "encoding": {
      "x": {"field": "x", "type": "quantitative", "scale": {"domain": [395, 410], "nice": false, "zero": false}, "axis": {"values": [395,396,397,398,399,400,401,402,403,404,405,406,407,408,409,410], "labelExpr": "datum.value % 5 === 0 ? datum.label : ''", "title": "Photon energy (eV)", "titleY": 51, "titleBaseline": "middle"}},
      "y": {"field": "y", "type": "quantitative", "scale": {"domain": [-0.5, 2.2], "nice": false, "zero": false}, "axis": {"values": [0, 0.5, 1, 1.5, 2], "labelExpr": "datum.value % 1 === 0 ? '' + datum.value : ''", "title": null}}
    },
    "layer": [
      {"data": {"name": "dtmp_bot"}, "mark": {"type": "line", "strokeWidth": 2.6, "interpolate": "monotone"}, "encoding": {"color": {"field": "series", "type": "nominal", "legend": null, "scale": {"domain": ["4","i","6","ii","8","iii"], "range": ["#1010ee","#a3a3a3","#1010ee","#a3a3a3","#1010ee","#a3a3a3"]}}}},
      {"data": {"name": "labels"}, "transform": [{"filter": "datum.panel === 'dtmp_bot'"}], "mark": {"type": "text", "fontSize": 19, "font": "Liberation Sans", "align": "center", "baseline": "middle", "color": "#000"}, "encoding": {"text": {"field": "text"}}}
    ]
  },
  {
    "width": 290, "height": 304,
    "encoding": {
      "x": {"field": "x", "type": "quantitative", "scale": {"domain": [395, 410], "nice": false, "zero": false}, "axis": {"values": [395,396,397,398,399,400,401,402,403,404,405,406,407,408,409,410], "labelExpr": "datum.value % 5 === 0 ? datum.label : ''", "title": "Photon energy (eV)", "titleY": 51, "titleBaseline": "middle"}},
      "y": {"field": "y", "type": "quantitative", "scale": {"domain": [-0.5, 2.2], "nice": false, "zero": false}, "axis": {"values": [0, 0.5, 1, 1.5, 2], "labelExpr": "datum.value % 1 === 0 ? '' + datum.value : ''", "title": null}}
    },
    "layer": [
      {"data": {"name": "cmp_bot"}, "mark": {"type": "line", "color": "#0e8a0e", "strokeWidth": 2.8, "interpolate": "monotone"}, "encoding": {}},
      {"data": {"name": "labels"}, "transform": [{"filter": "datum.panel === 'cmp_bot'"}], "mark": {"type": "text", "fontSize": 19, "font": "Liberation Sans", "align": "center", "baseline": "middle", "color": "#000"}, "encoding": {"text": {"field": "text"}}}
    ]
  }
]
}
